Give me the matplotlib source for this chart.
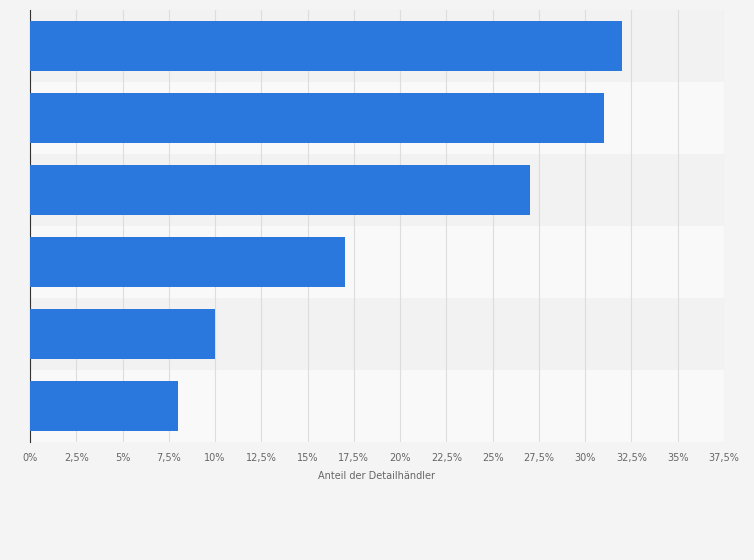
import matplotlib
matplotlib.use("Agg")
import matplotlib.pyplot as plt

categories = ["A", "B", "C", "D", "E", "F"]
values = [32, 31, 27, 17, 10, 8]
ticks = [0, 2.5, 5, 7.5, 10, 12.5, 15, 17.5, 20, 22.5, 25, 27.5, 30, 32.5, 35, 37.5]
tick_labels = ["0%", "2,5%", "5%", "7,5%", "10%", "12,5%", "15%", "17,5%", "20%", "22,5%",
               "25%", "27,5%", "30%", "32,5%", "35%", "37,5%"]

fig = plt.figure(figsize=(7.54, 5.6), dpi=100, facecolor="#f4f4f4")
ax = fig.add_axes([30/754, 118/560, 694/754, 432/560])
ax.set_facecolor("#f4f4f4")
n = len(categories)
ys = list(range(n))
for i in ys:
    ax.axhspan(i - 0.5, i + 0.5, color="#f2f2f2" if i % 2 == 0 else "#f9f9f9", zorder=0, lw=0)
ax.barh(ys, values, height=0.7, color="#2a77dd", zorder=3)
ax.set_ylim(n - 0.5, -0.5)
ax.set_xlim(0, 37.5)
ax.set_xticks(ticks)
ax.set_xticklabels(tick_labels, fontsize=7, color="#666666")
ax.set_yticks([])
ax.grid(axis="x", color="#dddddd", lw=0.8, zorder=1)
for s in ["top", "right", "bottom"]:
    ax.spines[s].set_visible(False)
ax.spines["left"].set_color("#333333")
ax.tick_params(axis="x", length=0, pad=8)
ax.set_xlabel("Anteil der Detailhändler", fontsize=7, color="#666666", labelpad=6)
fig.savefig("out.png", dpi=100, facecolor=fig.get_facecolor())
